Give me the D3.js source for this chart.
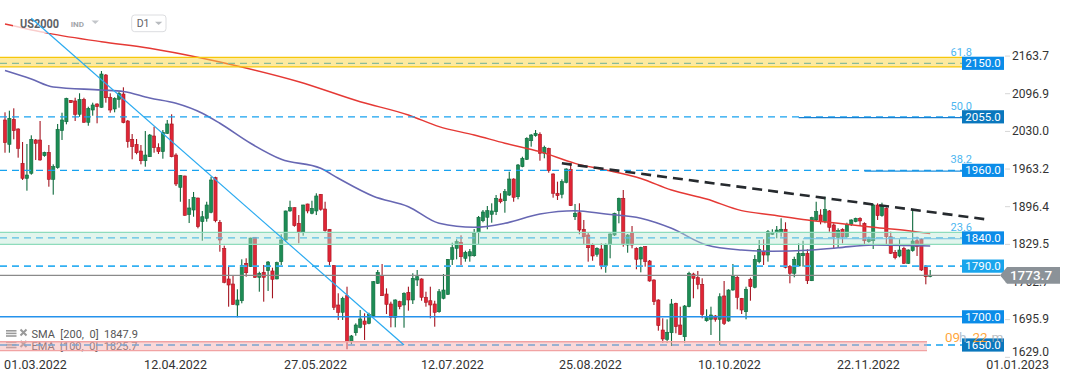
<!DOCTYPE html>
<html><head><meta charset="utf-8">
<script src="https://cdn.jsdelivr.net/npm/d3@7"></script>
<style>html,body{margin:0;padding:0;background:#fff;overflow:hidden}svg{display:block;font-family:Roboto,"Open Sans",sans-serif}</style>
</head><body><svg id="c" width="1072" height="382"></svg>
<script>
// ---------- DATA ----------
const candleOpen=[2049.4,2006.2,2050.6,2033.4,1972.5,1945.9,1954.8,2013.9,2013.9,1986.0,1992.0,1944.1,1964.7,2030.4,2046.3,2084.3,2083.1,2059.5,2086.1,2045.3,2067.1,2077.8,2071.9,2129.2,2089.7,2068.9,2086.1,2095.5,2047.6,2015.1,2006.2,1994.3,1977.1,1984.2,2021.0,2000.2,1993.1,2025.8,2042.3,1987.2,1929.9,1950.0,1881.6,1889.6,1910.9,1868.9,1874.9,1885.5,1947.0,1867.8,1821.6,1767.2,1758.3,1721.0,1728.6,1795.0,1789.0,1841.2,1770.2,1779.0,1781.9,1781.4,1767.2,1797.9,1836.4,1887.9,1893.7,1866.0,1851.1,1900.3,1883.8,1887.9,1917.5,1891.4,1855.4,1790.8,1721.0,1708.0,1737.5,1655.9,1671.8,1681.4,1692.6,1688.5,1702.0,1759.5,1773.0,1740.5,1722.8,1699.2,1726.9,1721.0,1743.5,1729.9,1765.4,1767.2,1734.7,1728.6,1722.8,1709.1,1732.9,1740.0,1802.1,1821.6,1832.3,1803.9,1808.0,1808.5,1849.3,1870.6,1876.7,1882.0,1886.6,1909.1,1906.1,1916.2,1944.6,1913.2,1966.5,1979.6,2012.6,2021.5,2024.0,1990.3,1999.1,1953.5,1919.3,1917.5,1938.8,1961.9,1877.7,1884.8,1855.4,1845.2,1827.5,1811.0,1820.4,1790.8,1829.3,1845.2,1888.4,1910.4,1827.5,1849.3,1821.6,1802.6,1824.5,1799.1,1765.4,1729.9,1676.6,1660.1,1671.8,1724.0,1685.5,1664.7,1718.0,1776.0,1769.5,1757.7,1693.1,1695.6,1701.5,1695.6,1737.0,1692.6,1747.6,1770.2,1732.9,1709.1,1766.6,1752.4,1797.9,1815.6,1809.7,1846.5,1849.3,1849.3,1855.4,1789.0,1777.3,1790.2,1808.5,1812.8,1764.1,1871.9,1880.7,1868.9,1887.9,1863.0,1841.2,1855.4,1842.2,1864.2,1868.9,1874.9,1866.0,1833.4,1835.1,1898.5,1879.5,1892.6,1842.2,1814.5,1808.0,1821.6,1795.0,1817.4,1835.1,1837.6,1787.9,1771.8];
const candleHigh=[2063.0,2065.9,2070.1,2034.6,2010.3,2006.8,2022.2,2015.6,2047.6,1993.1,2005.0,1970.7,2042.3,2062.3,2088.9,2084.8,2088.9,2096.8,2088.9,2073.0,2080.1,2079.0,2136.3,2131.0,2096.8,2089.7,2099.6,2107.4,2049.4,2024.5,2015.6,2005.0,2029.8,2024.5,2037.5,2008.0,2031.6,2049.4,2059.5,1990.3,1951.7,1950.5,1909.1,1921.6,1911.5,1887.9,1904.3,1948.7,1948.7,1871.9,1826.3,1789.0,1774.3,1748.9,1802.1,1803.9,1840.5,1841.7,1780.1,1792.0,1799.1,1787.2,1797.9,1846.5,1888.5,1906.1,1894.3,1880.7,1899.0,1900.8,1906.1,1919.3,1918.0,1904.3,1855.9,1792.0,1741.8,1735.7,1753.5,1667.8,1688.5,1712.1,1706.3,1707.3,1763.6,1783.1,1793.8,1750.6,1726.9,1731.1,1728.6,1743.5,1753.5,1777.3,1783.1,1768.4,1744.6,1753.5,1728.6,1749.4,1776.0,1802.6,1831.6,1837.6,1844.7,1817.4,1820.4,1855.9,1879.0,1889.6,1896.7,1901.5,1916.2,1919.3,1926.9,1957.6,1945.9,1971.3,1984.2,2018.7,2024.5,2031.6,2027.5,2003.8,2000.2,1954.8,1939.9,1944.1,1963.6,1972.5,1900.3,1901.5,1871.9,1849.3,1830.5,1823.4,1830.5,1830.5,1848.3,1884.8,1911.5,1925.1,1847.0,1861.2,1823.4,1824.5,1825.7,1800.9,1766.6,1731.1,1697.4,1695.6,1731.7,1725.1,1718.0,1721.0,1780.1,1778.3,1781.4,1768.4,1713.4,1718.0,1703.3,1741.8,1763.6,1748.9,1793.8,1772.5,1733.5,1753.5,1769.5,1809.7,1836.4,1837.6,1854.1,1855.4,1861.2,1874.9,1867.8,1792.0,1806.7,1830.5,1835.1,1819.9,1877.7,1904.3,1890.9,1913.2,1889.6,1866.0,1857.1,1857.1,1867.1,1873.1,1876.0,1876.7,1867.8,1842.2,1900.3,1901.5,1902.6,1894.4,1851.1,1818.6,1837.6,1824.5,1819.9,1889.6,1842.2,1839.4,1792.0,1783.1];
const candleLow=[1991.3,1991.3,2015.1,1982.5,1942.9,1923.9,1952.3,1978.4,1977.1,1984.2,1931.0,1916.8,1962.9,2013.9,2041.7,2079.6,2047.6,2055.2,2044.6,2039.2,2057.0,2043.5,2071.2,2080.1,2062.3,2063.0,2071.2,2043.5,2000.2,1979.6,1988.5,1970.7,1966.5,1983.7,1991.3,1989.0,1980.7,2024.5,1983.2,1932.2,1904.3,1879.5,1866.5,1877.7,1857.1,1835.1,1868.9,1883.8,1867.8,1815.6,1759.5,1718.0,1721.0,1699.2,1724.0,1771.2,1788.5,1768.9,1744.6,1726.9,1745.9,1732.9,1766.6,1792.0,1833.4,1886.6,1860.0,1830.5,1844.0,1883.8,1882.0,1880.7,1888.4,1851.1,1790.8,1712.1,1694.4,1694.4,1642.4,1651.3,1666.5,1679.6,1658.9,1686.8,1700.2,1758.3,1737.0,1705.0,1681.4,1681.4,1713.4,1680.7,1710.9,1722.8,1754.7,1728.6,1718.0,1697.4,1682.5,1707.3,1731.1,1738.8,1792.0,1802.1,1792.0,1797.9,1797.9,1806.7,1829.3,1867.8,1855.4,1867.1,1880.7,1901.5,1884.8,1914.5,1904.3,1908.6,1965.4,1978.4,2002.0,2019.7,1977.1,1981.4,1955.8,1911.5,1907.4,1910.4,1937.0,1896.7,1871.9,1846.5,1829.3,1797.9,1799.6,1806.7,1784.4,1778.3,1803.9,1843.5,1866.0,1824.5,1813.8,1821.6,1784.4,1779.0,1789.0,1762.4,1721.0,1675.4,1654.1,1654.1,1648.2,1670.8,1667.8,1654.1,1716.9,1732.9,1748.9,1697.4,1691.4,1667.8,1691.4,1650.0,1685.5,1691.4,1746.4,1713.4,1705.0,1695.6,1728.6,1750.6,1795.0,1792.0,1797.9,1845.2,1839.4,1842.2,1786.0,1759.5,1770.2,1789.0,1789.0,1758.3,1763.5,1870.1,1864.2,1866.0,1851.1,1820.4,1823.4,1830.5,1840.5,1861.2,1867.8,1861.2,1829.3,1831.6,1820.4,1871.9,1877.7,1827.5,1811.5,1802.1,1805.7,1793.8,1793.8,1815.6,1808.0,1781.4,1757.7,1770.2];
const candleClose=[2009.1,2052.4,2030.4,1999.1,1945.9,1951.7,2015.1,2008.0,1978.4,1992.0,1944.1,1966.5,2032.9,2049.4,2087.9,2080.1,2059.5,2086.1,2045.3,2070.1,2076.0,2073.0,2131.0,2088.9,2067.1,2087.9,2096.8,2044.6,2010.9,2002.0,1991.3,1977.1,1987.2,2022.7,2000.2,1993.1,2027.5,2042.3,1984.2,1935.8,1951.2,1880.2,1893.2,1912.2,1860.0,1877.7,1898.5,1942.9,1870.6,1836.4,1761.3,1756.5,1722.2,1729.9,1791.5,1778.3,1839.9,1770.2,1777.3,1770.2,1797.3,1766.6,1796.1,1836.4,1887.9,1893.7,1861.8,1851.1,1898.5,1887.9,1892.6,1914.5,1890.9,1852.9,1797.9,1716.9,1708.0,1732.9,1655.9,1666.0,1685.5,1696.2,1686.8,1704.5,1762.4,1779.0,1737.5,1722.2,1699.2,1729.9,1718.0,1741.8,1729.9,1768.4,1771.2,1734.7,1725.8,1721.0,1708.0,1744.6,1747.6,1802.1,1822.7,1833.4,1806.7,1814.5,1815.6,1848.3,1876.7,1886.1,1888.4,1887.9,1910.4,1904.3,1922.1,1944.6,1912.2,1969.5,1981.4,2016.9,2022.7,2025.8,1990.3,2000.9,1959.4,1919.3,1915.0,1939.9,1962.4,1897.3,1883.8,1854.1,1842.2,1822.7,1808.0,1821.6,1790.8,1827.5,1847.0,1883.8,1910.4,1830.5,1845.2,1827.5,1802.1,1823.4,1797.9,1763.6,1726.9,1684.3,1660.7,1672.6,1722.8,1682.5,1669.0,1719.2,1777.3,1768.4,1757.7,1704.5,1698.5,1703.3,1695.6,1735.7,1688.5,1747.6,1772.5,1734.7,1712.1,1748.9,1753.5,1802.1,1819.9,1809.7,1851.1,1849.3,1854.1,1855.4,1787.9,1777.3,1802.1,1812.8,1812.8,1764.1,1876.0,1886.6,1868.9,1890.9,1858.9,1842.2,1852.9,1842.2,1864.2,1871.9,1874.9,1870.1,1835.1,1838.2,1898.5,1879.5,1896.7,1842.2,1812.8,1805.0,1818.6,1795.0,1818.6,1834.6,1824.5,1783.1,1771.2,1773.7];

const smaIdx=[0,10,22,33,45,52,67,81,92,99,107,114,122,130,137,145,152,160,168,175,183,190,198,206,211];
const smaVal=[2219.8,2203.2,2188.3,2176.6,2158.9,2147.0,2117.3,2081.8,2058.2,2037.5,2022.7,2008.0,1993.1,1972.5,1960.6,1945.5,1925.1,1909.1,1888.4,1880.7,1871.9,1866.0,1858.9,1852.9,1847.9];
const emaIdx=[0,6,11,22,27,33,39,45,49,56,63,72,76,84,92,99,107,114,122,130,137,145,152,160,168,175,183,190,198,211];
const emaVal=[2137.2,2122.1,2107.9,2102.6,2099.9,2088.4,2079.0,2061.3,2043.5,2008.0,1979.6,1963.6,1945.9,1914.0,1895.5,1866.0,1858.9,1866.0,1882.5,1888.4,1882.5,1874.9,1857.1,1827.5,1818.6,1816.3,1818.1,1822.7,1827.5,1825.7];

const levelValues=[2150,2055,1960,1840,1790,1700,1650];
const levelLabels=["2150.0","2055.0","1960.0","1840.0","1790.0","1700.0","1650.0"];
const fibValues=[2150,2055,1960,1840];
const fibLabels=["61.8","50.0","38.2","23.6"];
const zoneYellow=[2143.5,2160.5];
const zoneGreen=[1828.7,1850.0];
const zonePink=[1640.0,1655.8];
const blueTrend=[[6,2229.9],[91,1650]];
const blackTrend=[[127,1972.5],[223.5,1873.3]];
const lastPrice=1773.7;
const yTicks=[2163.7,2096.9,2030.0,1963.2,1896.4,1829.5,1762.7,1695.9,1629.0];
const xTickPos=[6.84,38.77,70.7,101.9,133.4,165.1,196.8,230.8];
const xTickLabels=["01.03.2022","12.04.2022","27.05.2022","12.07.2022","25.08.2022","10.10.2022","22.11.2022","01.01.2023"];
const smaLegend="SMA  [200,  0]  1847.9";
const emaLegend="EMA  [100,  0]  1825.7";

// ---------- DRAW ----------
const svg=d3.select('#c');
svg.append('rect').attr('width',1072).attr('height',382).attr('fill','#fff');
const x=d3.scaleLinear().domain([0,211]).range([5,930.2]);
const y=d3.scaleLinear().domain([1650,2150]).range([345,63.3]);
const plotRight=962;

// legend (under pink zone)
function legendRow(ty,label){
  const g=svg.append('g');
  [0,2.6,5.2].forEach(d=>g.append('rect').attr('x',6).attr('y',ty-8+d).attr('width',10.5).attr('height',1.6).attr('fill','#9a9a9a'));
  g.append('path').attr('d',`M20.5,${ty-8.5} L26.5,${ty-2.5} M26.5,${ty-8.5} L20.5,${ty-2.5}`).attr('stroke','#9a9a9a').attr('stroke-width',2);
  g.append('text').attr('x',31.5).attr('y',ty).attr('font-size',11).attr('fill','#555').style('white-space','pre').text(label);
}
legendRow(338,smaLegend);
legendRow(349.5,emaLegend);

// candles
const candles=candleOpen.map((o,i)=>({i,o,h:candleHigh[i],l:candleLow[i],c:candleClose[i]}));
const cg=svg.append('g');
candles.forEach(d=>{
  const up=d.c>=d.o;
  const col=up?'#1d8c55':'#e02535';
  const dark=up?'#0f6a3d':'#a51622';
  const cx=x(d.i);
  cg.append('rect').attr('x',cx-0.55).attr('y',y(d.h)).attr('width',1.1).attr('height',Math.max(1,y(d.l)-y(d.h))).attr('fill',dark);
  const top=y(Math.max(d.o,d.c)),bot=y(Math.min(d.o,d.c));
  cg.append('rect').attr('x',cx-1.6).attr('y',top).attr('width',3.2).attr('height',Math.max(1,bot-top))
    .attr('fill',col).attr('stroke',dark).attr('stroke-width',0.6);
});

// moving averages
const line=d3.line().x(d=>x(d[0])).y(d=>y(d[1])).curve(d3.curveMonotoneX);
svg.append('path').attr('d',line(smaIdx.map((k,i)=>[k,smaVal[i]]))).attr('fill','none').attr('stroke','#e53935').attr('stroke-width',1.4);
svg.append('path').attr('d',line(emaIdx.map((k,i)=>[k,emaVal[i]]))).attr('fill','none').attr('stroke','#6767b3').attr('stroke-width',1.6);

// levels
levelValues.forEach(v=>{
  const ly=y(v);
  if(v===1700){
    svg.append('line').attr('x1',0).attr('x2',plotRight).attr('y1',ly).attr('y2',ly).attr('stroke','#2592ec').attr('stroke-width',1.5);
  } else {
    svg.append('line').attr('x1',0).attr('x2',plotRight).attr('y1',ly).attr('y2',ly)
      .attr('stroke',v===1790?'#33b0f2':'#18a2ef').attr('stroke-width',v===1790?1.6:1.3).attr('stroke-dasharray','7,5');
  }
});
[[2055,181,'#1a7fd0'],[1960,196,'#1a8fe0'],[1840,182,'#4aa8ee']].forEach(s=>{
  svg.append('line').attr('x1',x(s[1])).attr('x2',plotRight).attr('y1',y(s[0])+0.8).attr('y2',y(s[0])+0.8).attr('stroke',s[2]).attr('stroke-width',1.2);
});
svg.append('line').attr('x1',0).attr('x2',1000).attr('y1',y(lastPrice)).attr('y2',y(lastPrice)).attr('stroke','#8a8a8a').attr('stroke-width',1.2);

// trendlines
const tl=d3.line().x(d=>x(d[0])).y(d=>y(d[1]));
svg.append('path').attr('d',tl(blackTrend)).attr('stroke','#262a2e').attr('stroke-width',2.6).attr('stroke-dasharray','10,6').attr('fill','none');

// zones (semi-transparent)
function zone(z,fill,op,stroke,xr){
  const y1=y(z[1]),y2=y(z[0]);
  svg.append('rect').attr('x',0).attr('y',y1).attr('width',xr).attr('height',y2-y1).attr('fill',fill).attr('fill-opacity',op);
  [y1,y2].forEach(yy=>svg.append('line').attr('x1',0).attr('x2',xr).attr('y1',yy).attr('y2',yy).attr('stroke',stroke).attr('stroke-width',1.3));
}
zone(zoneYellow,'#fbd640',0.5,'#f6c70a',plotRight);
zone(zoneGreen,'#b9e8d4',0.42,'#8edcbc',plotRight);
zone(zonePink,'#f5a8a8',0.45,'#f1a3a3',927);

// header
svg.append('rect').attr('x',13).attr('y',12).attr('width',92).attr('height',21).attr('fill','#fff').attr('fill-opacity',0.75);
svg.append('text').attr('x',20).attr('y',28).attr('font-size',13.5).attr('font-weight',700).attr('fill','#5f6266')
  .attr('textLength',39).attr('lengthAdjust','spacingAndGlyphs').text('US2000');
svg.append('text').attr('x',70.7).attr('y',26.7).attr('font-size',7.5).attr('font-weight',700).attr('fill','#a3a6aa')
  .attr('textLength',13.3).attr('lengthAdjust','spacingAndGlyphs').text('IND');
svg.append('path').attr('d','M91.5,20.5 L99,20.5 L95.25,24 Z').attr('fill','#c3c6ca');
svg.append('rect').attr('x',131.7).attr('y',15).attr('width',34.3).attr('height',16.7).attr('rx',3).attr('fill','#fff').attr('stroke','#dcdde0');
svg.append('text').attr('x',136.7).attr('y',27.3).attr('font-size',10.5).attr('fill','#5f6266').text('D1');
svg.append('path').attr('d','M155,21.7 L162.3,21.7 L158.65,25 Z').attr('fill','#b8bbbf');

// blue trendline (over the header overlay)
svg.append('path').attr('d',tl(blueTrend)).attr('stroke','#2aaaf0').attr('stroke-width',1.2).attr('fill','none');

// fib labels
fibValues.forEach((v,i)=>{
  svg.append('text').attr('x',972).attr('y',y(v)-7).attr('text-anchor','end').attr('font-size',11).attr('fill','#4db6f0').text(fibLabels[i]);
});

// y axis
const yAxis=d3.axisRight(y).tickValues(yTicks).tickFormat(d3.format('.1f')).tickSize(5).tickPadding(2);
const gy=svg.append('g').attr('transform','translate(1005,0)').call(yAxis);
gy.select('.domain').remove();
gy.selectAll('.tick line').attr('stroke','#d6d6d6');
gy.selectAll('.tick text').attr('fill','#333').style('font-size','12px').style('font-family','Roboto,sans-serif');
gy.selectAll('.tick').filter(d=>d===1629.0).select('text').attr('y',-5);

// level boxes
const boxColors={2150:'#0b8ce8',2055:'#0a77bd',1960:'#0b8ce8',1840:'#0b8ce8',1790:'#1aa5ec',1700:'#0b8ce8',1650:'#0a77bd'};
levelValues.forEach((v,i)=>{
  const ly=y(v);
  svg.append('rect').attr('x',962).attr('y',ly-6.6).attr('width',42).attr('height',13.2).attr('fill',boxColors[v]);
  svg.append('text').attr('x',983).attr('y',ly).attr('dy','0.36em').attr('text-anchor','middle').attr('font-size',11.5).attr('fill','#fff').text(levelLabels[i]);
});

// countdown
svg.append('text').attr('x',945).attr('y',341.5).attr('font-size',13.5).attr('fill','#ff9b1f').attr('fill-opacity',0.9).text('09');
svg.append('text').attr('x',959).attr('y',341.5).attr('font-size',13.5).attr('fill','#9fb3c6').attr('fill-opacity',0.8).text('h');
svg.append('text').attr('x',972.5).attr('y',341.5).attr('font-size',13.5).attr('fill','#ff9b1f').attr('fill-opacity',0.9).text('22');
svg.append('text').attr('x',991.5).attr('y',341.5).attr('font-size',13.5).attr('fill','#a8adb3').attr('fill-opacity',0.8).text('m');

// price tag
const py=y(lastPrice);
svg.append('path').attr('d',`M1000,${py} L1007,${py-8.4} L1060,${py-8.4} L1060,${py+8.4} L1007,${py+8.4} Z`).attr('fill','#8b9298');
svg.append('text').attr('x',1031).attr('y',py).attr('dy','0.36em').attr('text-anchor','middle').attr('font-size',13.5).attr('font-weight',500).attr('fill','#fff').text(lastPrice.toFixed(1));

// x axis
const xAxis=d3.axisBottom(x).tickValues(xTickPos).tickFormat((d,i)=>xTickLabels[i]).tickSize(0).tickPadding(4);
const gx=svg.append('g').attr('transform','translate(0,356)').call(xAxis);
gx.select('.domain').remove();
gx.selectAll('.tick text').attr('fill','#333').style('font-size','12.5px').style('font-family','Roboto,sans-serif');
</script></body></html>
